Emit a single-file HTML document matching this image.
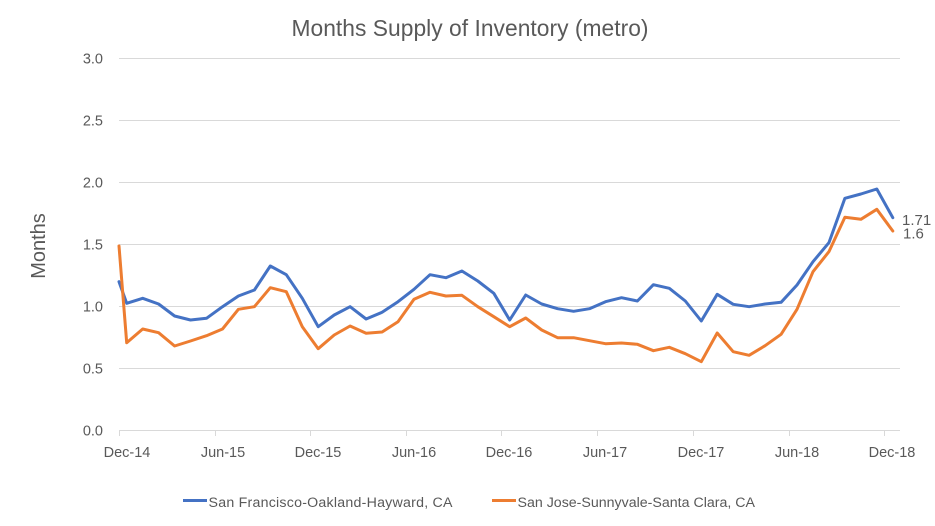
<!DOCTYPE html>
<html>
<head>
<meta charset="utf-8">
<style>
html,body{margin:0;padding:0;background:#fff;}
svg{display:block;}
text{font-family:"Liberation Sans",sans-serif;fill:#595959;}
</style>
</head>
<body>
<svg width="935" height="526" viewBox="0 0 935 526" xmlns="http://www.w3.org/2000/svg">
<rect width="935" height="526" fill="#fff"/>
<text x="470" y="36" font-size="22.8" text-anchor="middle" textLength="357">Months Supply of Inventory (metro)</text>
<text transform="translate(45,246) rotate(-90)" font-size="20" text-anchor="middle">Months</text>
<g stroke="#D9D9D9" stroke-width="1">
<line x1="119" y1="58.5" x2="900" y2="58.5"/>
<line x1="119" y1="120.5" x2="900" y2="120.5"/>
<line x1="119" y1="182.5" x2="900" y2="182.5"/>
<line x1="119" y1="244.5" x2="900" y2="244.5"/>
<line x1="119" y1="306.5" x2="900" y2="306.5"/>
<line x1="119" y1="368.5" x2="900" y2="368.5"/>
<line x1="119" y1="430.5" x2="900" y2="430.5"/>
<line x1="119.5" y1="430" x2="119.5" y2="436"/>
<line x1="215.5" y1="430" x2="215.5" y2="436"/>
<line x1="310.5" y1="430" x2="310.5" y2="436"/>
<line x1="406.5" y1="430" x2="406.5" y2="436"/>
<line x1="501.5" y1="430" x2="501.5" y2="436"/>
<line x1="597.5" y1="430" x2="597.5" y2="436"/>
<line x1="693.5" y1="430" x2="693.5" y2="436"/>
<line x1="789.5" y1="430" x2="789.5" y2="436"/>
<line x1="884.5" y1="430" x2="884.5" y2="436"/>
</g>
<g font-size="14.5" text-anchor="end">
<text x="103" y="63.5">3.0</text>
<text x="103" y="125.5">2.5</text>
<text x="103" y="187.5">2.0</text>
<text x="103" y="249.5">1.5</text>
<text x="103" y="311.5">1.0</text>
<text x="103" y="373.5">0.5</text>
<text x="103" y="435.5">0.0</text>
</g>
<g font-size="14.5" text-anchor="middle">
<text x="127" y="457">Dec-14</text>
<text x="223" y="457">Jun-15</text>
<text x="318" y="457">Dec-15</text>
<text x="414" y="457">Jun-16</text>
<text x="509" y="457">Dec-16</text>
<text x="605" y="457">Jun-17</text>
<text x="701" y="457">Dec-17</text>
<text x="797" y="457">Jun-18</text>
<text x="892" y="457">Dec-18</text>
</g>
<polyline fill="none" stroke="#4472C4" stroke-width="3" stroke-linejoin="round" stroke-linecap="round" points="119,281.7 126.7,303.3 142.7,298.3 158.6,304 174.6,316 190.5,320 206.5,318.3 222.5,306.7 238.4,296 254.4,290 270.3,266 286.3,274.7 302.3,298.3 318.2,326.7 334.2,315 350.1,306.7 366.1,319 382.1,312.3 398,301.7 414,289.3 430,274.7 445.9,277.7 461.9,271 477.8,281 493.8,293.3 509.7,320 525.7,295 541.7,304 557.6,308.7 573.6,311.3 589.5,308.7 605.5,301.7 621.5,297.7 637.4,301 653.4,284.7 669.3,288.3 685.3,301 701.3,321 717.2,294.3 733.2,304.3 749.1,306.7 765.1,304 781.1,302.3 797,285 813,261.7 828.9,242.7 844.9,198.3 860.9,194 876.8,189 892.8,217.7"/>
<polyline fill="none" stroke="#ED7D31" stroke-width="3" stroke-linejoin="round" stroke-linecap="round" points="119,246 126.7,342.7 142.7,329 158.6,332.7 174.6,346 190.5,341 206.5,335.7 222.5,329 238.4,309.3 254.4,306.7 270.3,287.7 286.3,291.7 302.3,326.7 318.2,348.7 334.2,335 350.1,326 366.1,333.3 382.1,332 398,321.7 414,299.3 430,292.3 445.9,296 461.9,295.3 477.8,306.7 493.8,316.7 509.7,326.7 525.7,318 541.7,330 557.6,337.7 573.6,337.7 589.5,340.7 605.5,343.7 621.5,343 637.4,344.3 653.4,350.7 669.3,347.3 685.3,353.7 701.3,361.7 717.2,333 733.2,351.7 749.1,355.3 765.1,345.7 781.1,334.3 797,309.3 813,271.7 828.9,251.7 844.9,217.3 860.9,219.3 876.8,209.3 892.8,231"/>
<text x="902" y="225" font-size="15">1.71</text>
<text x="903" y="238.5" font-size="15">1.6</text>
<line x1="183" y1="500.5" x2="207" y2="500.5" stroke="#4472C4" stroke-width="3"/>
<text x="208.5" y="507" font-size="14.2" textLength="244">San Francisco-Oakland-Hayward, CA</text>
<line x1="492" y1="500.5" x2="516" y2="500.5" stroke="#ED7D31" stroke-width="3"/>
<text x="517.5" y="507" font-size="14.2" textLength="237.5">San Jose-Sunnyvale-Santa Clara, CA</text>
</svg>
</body>
</html>
